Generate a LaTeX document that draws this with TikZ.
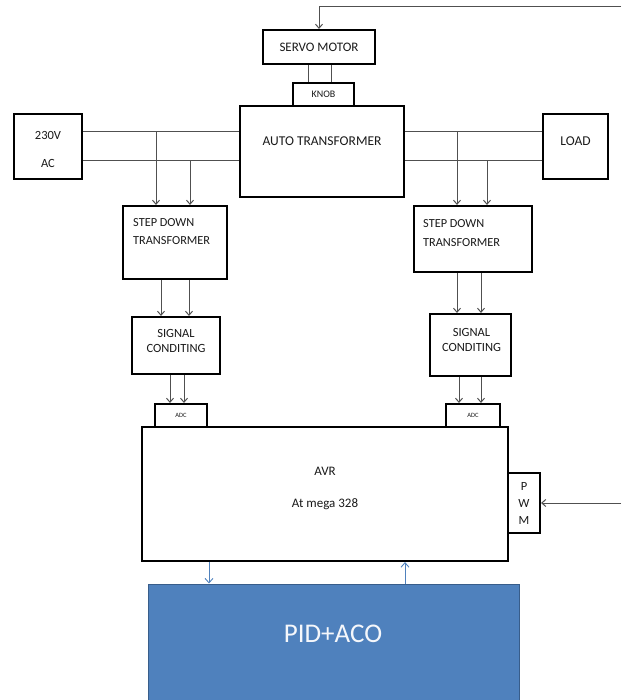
\documentclass[tikz,border=0pt]{standalone}
\usepackage{fontspec}
\setmainfont{Carlito}
\usetikzlibrary{arrows.meta}
\definecolor{officeblue}{HTML}{4F81BD}
\definecolor{officeblueD}{HTML}{385D8A}
\definecolor{wirec}{HTML}{505050}
\definecolor{txtc}{HTML}{1A1A1A}
\begin{document}
\begin{tikzpicture}[x=1pt,y=-1pt,
  blk/.style={draw=black, line width=2.1pt, fill=white, inner sep=0pt, text=txtc, align=center},
  txt/.style={inner sep=0pt, text=txtc},
  wire/.style={draw=wirec, line width=1pt},
  arr/.style={wire, -{Straight Barb[length=4pt,width=7pt]}},
  barr/.style={draw=officeblue, line width=0.9pt, -{Straight Barb[length=4.5pt,width=8pt]}},
  fs/.style={font=\fontsize{#1}{#1}\selectfont}
]
\useasboundingbox (0,0) rectangle (621,700);

% level and column coordinates
\coordinate (L1) at (0,132);
\coordinate (L2) at (0,161);
\coordinate (a1) at (156,0);
\coordinate (a2) at (190,0);
\coordinate (a3) at (457,0);
\coordinate (a4) at (487,0);
\coordinate (b1) at (161,0);
\coordinate (b2) at (189,0);
\coordinate (b3) at (457,0);
\coordinate (b4) at (481,0);
\coordinate (d1) at (170,0);
\coordinate (d2) at (184,0);
\coordinate (d3) at (459,0);
\coordinate (d4) at (481,0);
\coordinate (k1) at (308,0);
\coordinate (k2) at (331,0);
\coordinate (p1) at (209,0);
\coordinate (p2) at (405,0);
\coordinate (fb) at (621,7);
\coordinate (pw) at (621,503);

% blocks
\node[blk, fs=13, minimum width=112pt, minimum height=34pt] (servo) at (319,47) {SERVO MOTOR};
\node[blk, fs=10, minimum width=61pt, minimum height=23pt] (knob) at (323.5,94.5) {KNOB};
\node[blk, minimum width=164pt, minimum height=91pt] (auto) at (322,151.5) {};
\node[txt, fs=13.5] (autot) at (322,141) {AUTO TRANSFORMER};
\node[blk, minimum width=68pt, minimum height=65pt] (ac) at (48,146.5) {};
\node[txt, font=\fontsize{12.5}{28}\selectfont, align=center] (act) at (48,149) {230V\\AC};
\node[blk, fs=13.5, minimum width=65pt, minimum height=65pt] (load) at (575.5,146.5) {};
\node[txt, fs=13.5] (loadt) at (575.5,141) {LOAD};

\node[blk, minimum width=104pt, minimum height=73pt] (sd1) at (175,242.5) {};
\node[txt, font=\fontsize{12.3}{18}\selectfont, align=left, anchor=north west] (sd1t) at (133,218) {STEP DOWN\\TRANSFORMER};
\node[blk, minimum width=118pt, minimum height=66pt] (sd2) at (473,239) {};
\node[txt, font=\fontsize{12.3}{19}\selectfont, align=left, anchor=north west] (sd2t) at (423,219) {STEP DOWN\\TRANSFORMER};

\node[blk, minimum width=88pt, minimum height=57pt] (sc1) at (176,345.5) {};
\node[txt, font=\fontsize{12.5}{15}\selectfont, align=center] (sc1t) at (176,340.5) {SIGNAL\\CONDITING};
\node[blk, minimum width=81pt, minimum height=62pt] (sc2) at (470.5,345) {};
\node[txt, font=\fontsize{12.5}{15}\selectfont, align=center] (sc2t) at (471.5,339.5) {SIGNAL\\CONDITING};

\node[blk, fs=6.5, minimum width=52pt, minimum height=23pt] (adc1) at (181,415.5) {ADC};
\node[blk, fs=6.5, minimum width=54pt, minimum height=23pt] (adc2) at (473,415.5) {ADC};

\node[blk, minimum width=366pt, minimum height=134pt] (avr) at (325,494) {};
\node[txt, font=\fontsize{13}{32}\selectfont, align=center] (avrt) at (325,488) {AVR\\At mega 328};
\node[blk, minimum width=32pt, minimum height=60pt] (pwm) at (524,503) {};
\node[txt, font=\fontsize{12.5}{17}\selectfont, align=center] (pwmt) at (524,503) {P\\W\\M};

\node[fill=officeblue, draw=officeblueD, line width=1pt, inner sep=0pt, minimum width=371pt, minimum height=124pt] (pid) at (333.5,646) {};
\node[inner sep=0pt, text=white!94!officeblue, fs=27] (pidt) at (333,634) {PID+ACO};

% connectors
\draw[arr] (fb) -| (servo.north);
\draw[wire] (k1 |- servo.south) -- (k1 |- knob.north);
\draw[wire] (k2 |- servo.south) -- (k2 |- knob.north);

\draw[wire] (ac.east |- L1) -- (auto.west |- L1);
\draw[wire] (ac.east |- L2) -- (auto.west |- L2);
\draw[wire] (auto.east |- L1) -- (load.west |- L1);
\draw[wire] (auto.east |- L2) -- (load.west |- L2);

\draw[arr] (a1 |- L1) -- (a1 |- sd1.north);
\draw[arr] (a2 |- L2) -- (a2 |- sd1.north);
\draw[arr] (a3 |- L1) -- (a3 |- sd2.north);
\draw[arr] (a4 |- L2) -- (a4 |- sd2.north);

\draw[arr] (b1 |- sd1.south) -- (b1 |- sc1.north);
\draw[arr] (b2 |- sd1.south) -- (b2 |- sc1.north);
\draw[arr] (b3 |- sd2.south) -- (b3 |- sc2.north);
\draw[arr] (b4 |- sd2.south) -- (b4 |- sc2.north);

\draw[arr] (d1 |- sc1.south) -- (d1 |- adc1.north);
\draw[arr] (d2 |- sc1.south) -- (d2 |- adc1.north);
\draw[arr] (d3 |- sc2.south) -- (d3 |- adc2.north);
\draw[arr] (d4 |- sc2.south) -- (d4 |- adc2.north);

\draw[arr] (pw) -- (pwm.east);

\draw[barr] (p1 |- avr.south) -- (p1 |- pid.north);
\draw[barr] (p2 |- pid.north) -- (p2 |- avr.south);
\end{tikzpicture}
\end{document}
